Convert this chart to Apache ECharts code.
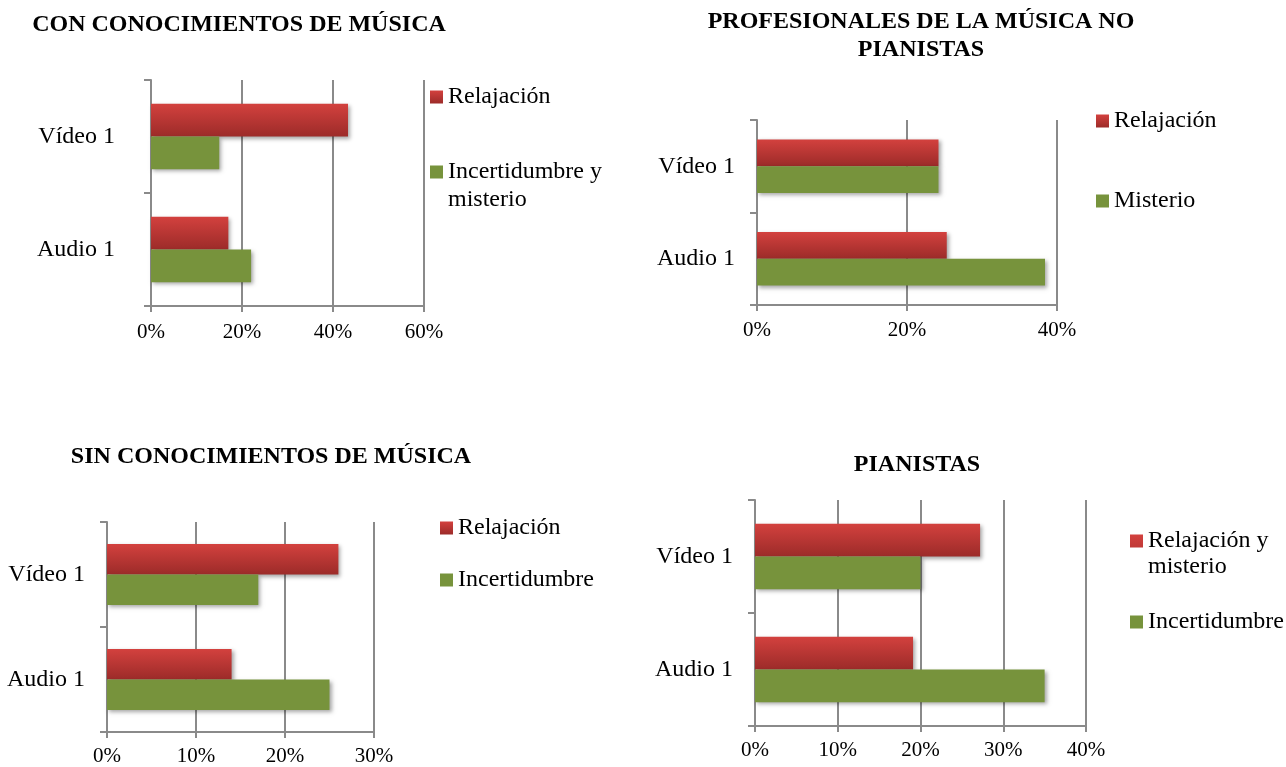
<!DOCTYPE html>
<html>
<head>
<meta charset="utf-8">
<script src="https://cdn.jsdelivr.net/npm/echarts@6/dist/echarts.min.js"></script>
<style>
  html, body { margin: 0; padding: 0; background: #fff; }
  #chart { width: 1286px; height: 767px; }
</style>
</head>
<body>
<div id="chart"></div>
<script>
const categories = ['Audio 1', 'Vídeo 1'];

const conRelajacion = [17, 43.3];
const conIncertidumbre = [22, 15];
const profRelajacion = [25.3, 24.2];
const profMisterio = [38.4, 24.2];
const sinRelajacion = [14, 26];
const sinIncertidumbre = [25, 17];
const pianRelajacion = [19.1, 27.2];
const pianIncertidumbre = [35, 20];

const titles = ['CON CONOCIMIENTOS DE MÚSICA', 'PROFESIONALES DE LA MÚSICA NO\nPIANISTAS',
  'SIN CONOCIMIENTOS DE MÚSICA', 'PIANISTAS'];
const redNames = ['Relajación', 'Relajación', 'Relajación', 'Relajación y\nmisterio'];
const greenNames = ['Incertidumbre y\nmisterio', 'Misterio', 'Incertidumbre', 'Incertidumbre'];
const redData = [conRelajacion, profRelajacion, sinRelajacion, pianRelajacion];
const greenData = [conIncertidumbre, profMisterio, sinIncertidumbre, pianIncertidumbre];
const axisMax = [60, 40, 30, 40];
const axisStep = [20, 20, 10, 10];

// layout for each panel
const grids = [
  { left: 151, top: 80, width: 273, height: 226 },
  { left: 757, top: 120, width: 300, height: 185 },
  { left: 107, top: 522, width: 267, height: 210 },
  { left: 755, top: 500, width: 331, height: 226 }
];
const titlePos = [
  { left: 239, top: 11 }, { left: 921, top: 8 }, { left: 271, top: 443 }, { left: 917, top: 451 }
];
const catMargin = [36, 22, 22, 22];
const valMargin = [16, 15, 14, 14];
// [left, top, iconBoxHeight, lineHeight] per legend item
const legendPos = [
  [[430, 83, 13, 28], [430, 158, 41, 28]],
  [[1096, 107, 13, 28], [1096, 187, 13, 28]],
  [[440, 514, 13, 28], [440, 566, 13, 28]],
  [[1130, 528, 39, 26], [1130, 608, 13, 28]]
];

const font = 'Liberation Serif';
const lineColor = '#8a8a8a';
const redGrad = new echarts.graphic.LinearGradient(0, 0, 0, 1, [
  { offset: 0, color: '#d3413e' },
  { offset: 1, color: '#9c2b29' }
]);
const green = '#77933c';

const option = {
  backgroundColor: '#fff',
  animation: false,
  title: [],
  legend: [],
  grid: [],
  xAxis: [],
  yAxis: [],
  series: []
};

for (let i = 0; i < 4; i++) {
  option.title.push({
    text: titles[i],
    left: titlePos[i].left,
    top: titlePos[i].top,
    padding: 0,
    textAlign: 'center',
    textStyle: { fontFamily: font, fontSize: 24, fontWeight: 'bold', color: '#000', lineHeight: 28 }
  });
  option.grid.push(Object.assign({ containLabel: false }, grids[i]));
  option.xAxis.push({
    type: 'value',
    gridIndex: i,
    min: 0,
    max: axisMax[i],
    interval: axisStep[i],
    axisLine: { show: true, lineStyle: { color: lineColor, width: 2 } },
    axisTick: { show: true, length: 6, lineStyle: { color: lineColor, width: 2 } },
    splitLine: { show: true, lineStyle: { color: lineColor, width: 2 } },
    axisLabel: { formatter: '{value}%', fontFamily: font, fontSize: 21, color: '#000', margin: valMargin[i] }
  });
  option.yAxis.push({
    type: 'category',
    gridIndex: i,
    data: categories,
    axisLine: { show: true, lineStyle: { color: lineColor, width: 2 } },
    axisTick: { show: true, length: 7, lineStyle: { color: lineColor, width: 2 } },
    axisLabel: { fontFamily: font, fontSize: 24, color: '#000', margin: catMargin[i] }
  });
  const shadow = { shadowColor: 'rgba(0,0,0,0.35)', shadowBlur: 4, shadowOffsetX: 2, shadowOffsetY: 2 };
  option.series.push({
    type: 'bar',
    name: redNames[i],
    xAxisIndex: i,
    yAxisIndex: i,
    data: redData[i],
    barGap: '0%',
    barCategoryGap: '42%',
    itemStyle: Object.assign({ color: redGrad }, shadow)
  });
  option.series.push({
    type: 'bar',
    name: greenNames[i],
    xAxisIndex: i,
    yAxisIndex: i,
    data: greenData[i],
    barGap: '0%',
    barCategoryGap: '42%',
    itemStyle: Object.assign({ color: green }, shadow)
  });
  [redNames[i], greenNames[i]].forEach((nm, k) => {
    const p = legendPos[i][k];
    // square sits at the top of the icon box so it lines up with the first text line
    const icon = p[2] > 13 ? 'path://M0,0H13V13H0Z M0,' + p[2] + 'L0.01,' + p[2] : 'rect';
    option.legend.push({
      data: [nm],
      left: p[0],
      top: p[1],
      padding: 0,
      itemWidth: 13,
      itemHeight: p[2],
      itemGap: 0,
      selectedMode: false,
      icon: icon,
      textStyle: { fontFamily: font, fontSize: 24, color: '#000', lineHeight: p[3] }
    });
  });
}

const chart = echarts.init(document.getElementById('chart'));
chart.setOption(option);
window.addEventListener('resize', () => chart.resize());
</script>
</body>
</html>
